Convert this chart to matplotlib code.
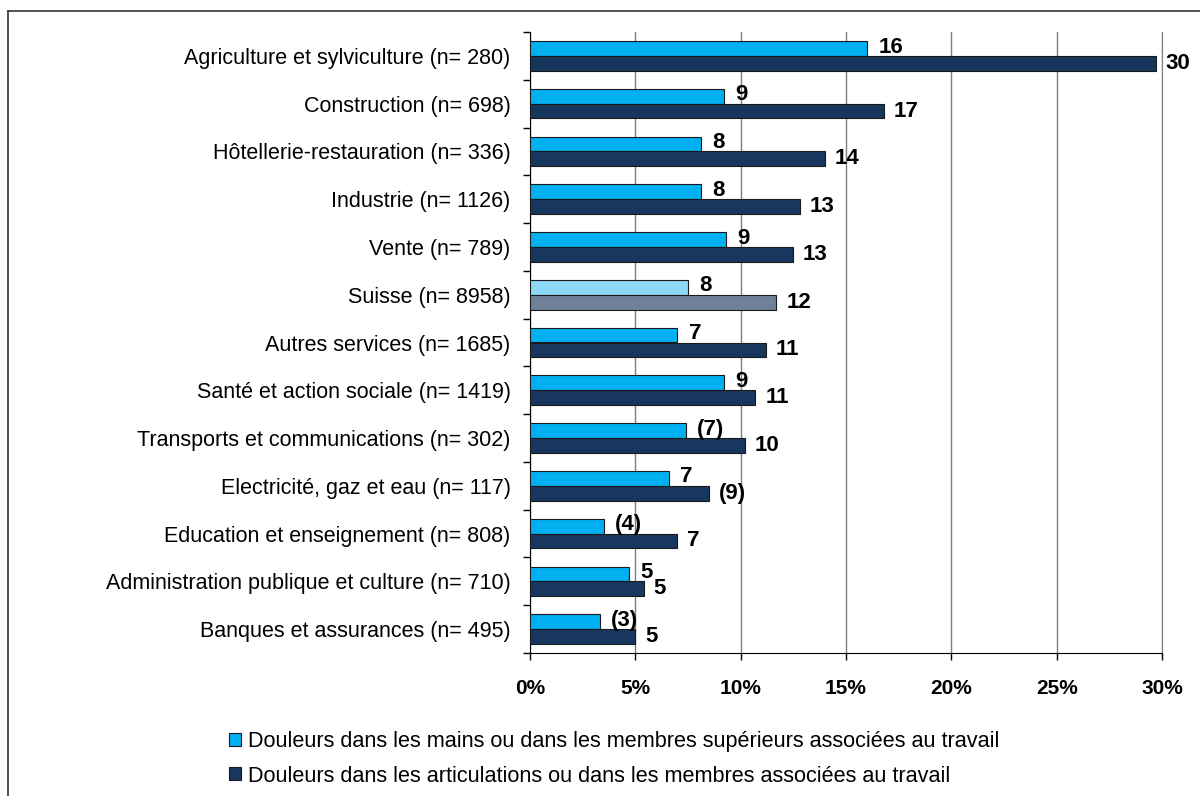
import matplotlib
matplotlib.use("Agg")
import matplotlib.pyplot as plt
from matplotlib.lines import Line2D
from matplotlib.patches import Patch
import numpy as np

plt.rcParams['font.family'] = ['Liberation Sans', 'DejaVu Sans']

categories = [
    "Agriculture et sylviculture (n= 280)",
    "Construction (n= 698)",
    "Hôtellerie-restauration (n= 336)",
    "Industrie (n= 1126)",
    "Vente (n= 789)",
    "Suisse (n= 8958)",
    "Autres services (n= 1685)",
    "Santé et action sociale (n= 1419)",
    "Transports et communications (n= 302)",
    "Electricité, gaz et eau (n= 117)",
    "Education et enseignement (n= 808)",
    "Administration publique et culture (n= 710)",
    "Banques et assurances (n= 495)",
]
mains = [16.0, 9.2, 8.1, 8.1, 9.3, 7.5, 7.0, 9.2, 7.4, 6.6, 3.5, 4.7, 3.3]
articulations = [29.7, 16.8, 14.0, 12.8, 12.5, 11.7, 11.2, 10.7, 10.2, 8.5, 7.0, 5.4, 5.0]
mains_labels = ["16", "9", "8", "8", "9", "8", "7", "9", "(7)", "7", "(4)", "5", "(3)"]
artic_labels = ["30", "17", "14", "13", "13", "12", "11", "11", "10", "(9)", "7", "5", "5"]
legend_labels = [
    "Douleurs dans les mains ou dans les membres supérieurs associées au travail",
    "Douleurs dans les articulations ou dans les membres associées au travail",
]
xticks = [0, 5, 10, 15, 20, 25, 30]

c_light = "#00B0F0"
c_dark = "#17375E"
c_light_ch = "#8DD9F6"
c_dark_ch = "#6E8198"

fig = plt.figure(figsize=(12, 7.96), dpi=100)
ax = fig.add_axes([530 / 1200, 1 - 653 / 796, (1162 - 530) / 1200, (653 - 32) / 796])

y = np.arange(len(categories))
h = 0.31
col_l = [c_light_ch if c.startswith("Suisse") else c_light for c in categories]
col_d = [c_dark_ch if c.startswith("Suisse") else c_dark for c in categories]
ax.barh(y - h / 2, mains, height=h, color=col_l, edgecolor="#1a1a1a", linewidth=0.8, zorder=3)
ax.barh(y + h / 2, articulations, height=h, color=col_d, edgecolor="#1a1a1a", linewidth=0.8, zorder=3)

for i in range(len(categories)):
    ax.annotate(mains_labels[i], (mains[i], y[i] - h / 2 - 0.03), xytext=(8, 0), textcoords="offset points",
                va="center", ha="left", fontsize=16, fontweight="bold")
    ax.annotate(artic_labels[i], (articulations[i], y[i] + h / 2), xytext=(7, 0), textcoords="offset points",
                va="center", ha="left", fontsize=16, fontweight="bold")

ax.set_xlim(0, 30)
ax.set_ylim(len(categories) - 0.5, -0.5)
ax.set_xticks(xticks)
ax.set_xticklabels([f"{t}%" for t in xticks], fontsize=15, fontweight="bold")
ax.set_yticks(y)
ax.set_yticklabels(categories, fontsize=15.5)
ax.set_yticks(np.arange(len(categories) + 1) - 0.5, minor=True)
ax.tick_params(axis="y", which="major", length=0, pad=14)
ax.tick_params(axis="y", which="minor", length=5, width=1, direction="out")
ax.tick_params(axis="x", which="major", length=5, width=1, direction="out", pad=14)
ax.xaxis.grid(True, color="#7f7f7f", linewidth=1, zorder=0)
ax.set_axisbelow(True)
ax.spines["top"].set_visible(False)
ax.spines["right"].set_color("#7f7f7f")
ax.spines["left"].set_color("black")
ax.spines["bottom"].set_color("black")

handles = [Patch(facecolor=c_light, edgecolor="#1a1a1a", linewidth=0.8),
           Patch(facecolor=c_dark, edgecolor="#1a1a1a", linewidth=0.8)]
fig.legend(handles, legend_labels, loc="upper left", bbox_to_anchor=(214 / 1200, 1 - 716 / 796),
           frameon=False, fontsize=15.6, handlelength=0.55, handleheight=0.55,
           handletextpad=0.3, labelspacing=0.62, borderpad=0.2)

# outer frame (only top and left edges visible)
fig.add_artist(Line2D([8 / 1200, 8 / 1200], [0, 1 - 11 / 796], transform=fig.transFigure, color="#333333", lw=1.2))
fig.add_artist(Line2D([8 / 1200, 1], [1 - 11 / 796, 1 - 11 / 796], transform=fig.transFigure, color="#333333", lw=1.2))

fig.savefig("out.png", dpi=100)
